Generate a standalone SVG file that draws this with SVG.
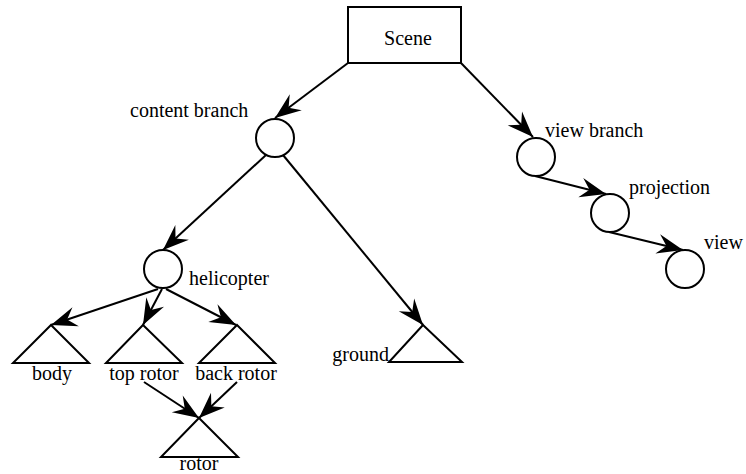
<svg xmlns="http://www.w3.org/2000/svg" width="746" height="474" viewBox="0 0 746 474">
<style>
.n{fill:#fff;stroke:#000;stroke-width:2}
.e{fill:none;stroke:#000;stroke-width:2;marker-end:url(#ah)}
.t{font-family:'Liberation Serif','Times New Roman',serif;font-size:20px;fill:#000}
</style>
<defs>
<marker id="ah" markerUnits="userSpaceOnUse" viewBox="-28 -12 30 24" refX="0" refY="0" markerWidth="30" markerHeight="24" orient="auto">
<path d="M0,0 L-26,-10 L-17,0 L-26,10 Z" fill="#000"/>
</marker>
</defs>
<g id="connectors">
<line class="e" x1="348" y1="63" x2="275" y2="118"/>
<line class="e" x1="461" y1="63" x2="533" y2="137"/>
<line class="e" x1="535" y1="176" x2="606" y2="194"/>
<line class="e" x1="609" y1="232" x2="683" y2="250"/>
<line class="e" x1="266" y1="155" x2="163" y2="250"/>
<line class="e" x1="283" y1="155" x2="423" y2="325"/>
<line class="e" x1="158" y1="289" x2="51" y2="325"/>
<line class="e" x1="162" y1="289" x2="143" y2="325"/>
<line class="e" x1="166" y1="289" x2="236" y2="325"/>
<line class="e" x1="144" y1="382" x2="199" y2="418"/>
<line class="e" x1="237" y1="382" x2="199" y2="418"/>
</g>
<g id="scene">
<rect class="n" x="348" y="7" width="113" height="56"/>
<text class="t" x="408" y="45" text-anchor="middle">Scene</text>
</g>
<g id="content-branch">
<circle class="n" cx="275" cy="138" r="19"/>
<text class="t" x="130" y="117">content branch</text>
</g>
<g id="view-branch">
<circle class="n" cx="536" cy="157" r="19"/>
<text class="t" x="545" y="137">view branch</text>
</g>
<g id="projection">
<circle class="n" cx="610" cy="213" r="19"/>
<text class="t" x="629" y="194">projection</text>
</g>
<g id="view">
<circle class="n" cx="685" cy="269" r="19"/>
<text class="t" x="704" y="249">view</text>
</g>
<g id="helicopter">
<circle class="n" cx="163" cy="269" r="19"/>
<text class="t" x="189" y="285">helicopter</text>
</g>
<g id="ground">
<polygon class="n" points="423,325 462,362 389,362"/>
<text class="t" x="389" y="361" text-anchor="end">ground</text>
</g>
<g id="body">
<polygon class="n" points="51,325 89,363 13,363"/>
<text class="t" x="52" y="380" text-anchor="middle">body</text>
</g>
<g id="top-rotor">
<polygon class="n" points="143,325 182,363 106,363"/>
<text class="t" x="144" y="380" text-anchor="middle">top rotor</text>
</g>
<g id="back-rotor">
<polygon class="n" points="237,325 275,363 199,363"/>
<text class="t" x="236" y="380" text-anchor="middle">back rotor</text>
</g>
<g id="rotor">
<polygon class="n" points="199,418 238,457 161,457"/>
<text class="t" x="199" y="470" text-anchor="middle">rotor</text>
</g>
</svg>
